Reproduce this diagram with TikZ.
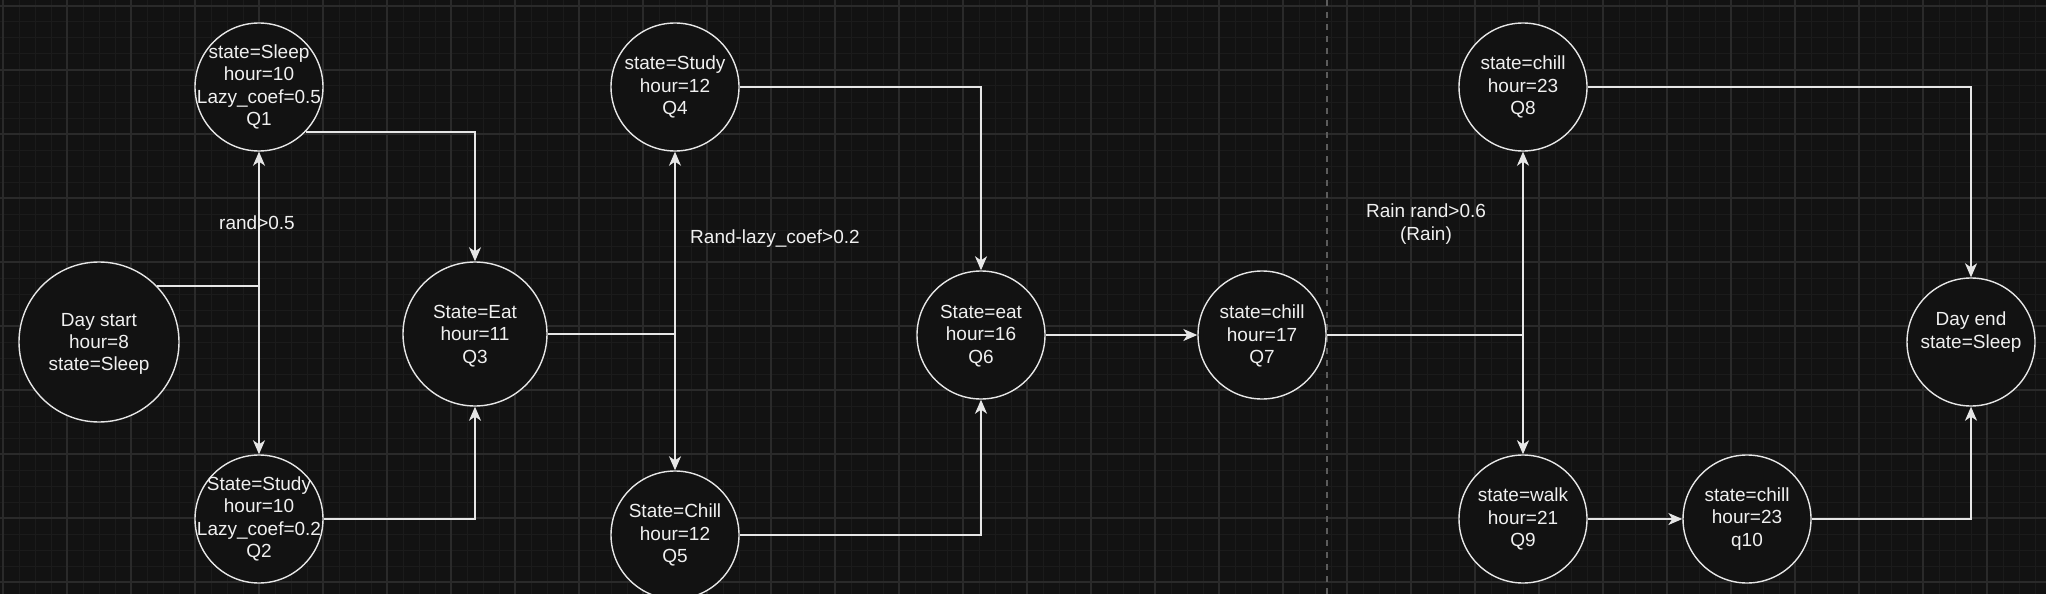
\documentclass[tikz,border=0pt]{standalone}
\usepackage{fontspec}
\setmainfont{Liberation Sans}
\usetikzlibrary{arrows.meta}
\definecolor{bg}{HTML}{121212}
\definecolor{gmaj}{HTML}{2A2A2A}
\definecolor{gmin}{HTML}{1B1B1B}
\definecolor{ln}{HTML}{E6E6E6}
\definecolor{tx}{HTML}{F0F0F0}
\definecolor{dsh}{HTML}{5C5C5C}
\begin{document}
\begin{tikzpicture}[x=1pt,y=-1pt,
  st/.style={circle, draw=ln, line width=1.4pt, fill=bg, inner sep=0pt, minimum size=#1},
  st/.default=128pt,
  txt/.style={text=tx, align=center, font=\fontsize{19}{22.3}\selectfont, inner sep=0pt},
  arr/.style={draw=ln, line width=1.6pt, -{Stealth[length=14pt,width=12pt,inset=4pt]}},
  con/.style={draw=ln, line width=1.6pt},
  gminor/.style={draw=gmin, line width=1pt},
  gmajor/.style={draw=gmaj, line width=1.5pt},
  sep/.style={draw=dsh, line width=1.8pt, dash pattern=on 6pt off 6pt},
]
\fill[bg] (0,0) rectangle (2046,594);
\useasboundingbox (0,0) rectangle (2046,594);
\clip (0,0) rectangle (2046,594);
% grid
\foreach \x in {3,19,...,2046} \draw[gminor] (\x,0) -- (\x,594);
\foreach \y in {6,22,...,594} \draw[gminor] (0,\y) -- (2046,\y);
\foreach \x in {3,67,...,2046} \draw[gmajor] (\x,0) -- (\x,594);
\foreach \y in {6,70,...,594} \draw[gmajor] (0,\y) -- (2046,\y);
% separator
\draw[sep] (1327,0) -- (1327,594);
% nodes
\node[st=160pt] (ds) at (99,342) {};
\node[st] (q1) at (259,87) {};
\node[st] (q2) at (259,519) {};
\node[st=144pt] (q3) at (475,334) {};
\node[st] (q4) at (675,87) {};
\node[st] (q5) at (675,535) {};
\node[st] (q6) at (981,335) {};
\node[st] (q7) at (1262,335) {};
\node[st] (q8) at (1523,87) {};
\node[st] (q9) at (1523,519) {};
\node[st] (q10) at (1747,519) {};
\node[st] (de) at (1971,342) {};
% connectors
\draw[arr] (ds.44.4) -| (q1.south);
\draw[arr] (ds.44.4) -| (q2.north);
\draw[arr] (q1.-44.7) -| (q3.north);
\draw[arr] (q2.east) -| (q3.south);
\draw[arr] (q3.east) -| (q4.south);
\draw[arr] (q3.east) -| (q5.north);
\draw[arr] (q4.east) -| (q6.north);
\draw[arr] (q5.east) -| (q6.south);
\draw[arr] (q6.east) -- (q7.west);
\draw[arr] (q7.east) -| (q8.south);
\draw[arr] (q7.east) -| (q9.north);
\draw[arr] (q8.east) -| (de.north);
\draw[arr] (q9.east) -- (q10.west);
\draw[arr] (q10.east) -| (de.south);
% texts
\node[txt] (dst) at ([yshift=-2pt]ds) {Day start\\hour=8\\state=Sleep};
\node[txt] (q1t) at (q1) {state=Sleep\\hour=10\\Lazy\_coef=0.5\\Q1};
\node[txt] (q2t) at (q2) {State=Study\\hour=10\\Lazy\_coef=0.2\\Q2};
\node[txt] (q3t) at ([yshift=-2pt]q3) {State=Eat\\hour=11\\Q3};
\node[txt] (q4t) at (q4) {state=Study\\hour=12\\Q4};
\node[txt] (q5t) at (q5) {State=Chill\\hour=12\\Q5};
\node[txt] (q6t) at ([yshift=-1pt]q6) {State=eat\\hour=16\\Q6};
\node[txt] (q7t) at ([yshift=-1pt]q7) {state=chill\\hour=17\\Q7};
\node[txt] (q8t) at (q8) {state=chill\\hour=23\\Q8};
\node[txt] (q9t) at (q9) {state=walk\\hour=21\\Q9};
\node[txt] (q10t) at (q10) {state=chill\\hour=23\\q10};
\node[txt] (det) at ([yshift=10pt]de) {Day end\\state=Sleep};
% edge labels
\node[txt] (l1) at (257,223) {rand>0.5};
\node[txt] (l2) at (775,239) {Rand-lazy\_coef>0.2};
\node[txt] (l3) at (1426,224) {Rain rand>0.6\\(Rain)};
\end{tikzpicture}
\end{document}
